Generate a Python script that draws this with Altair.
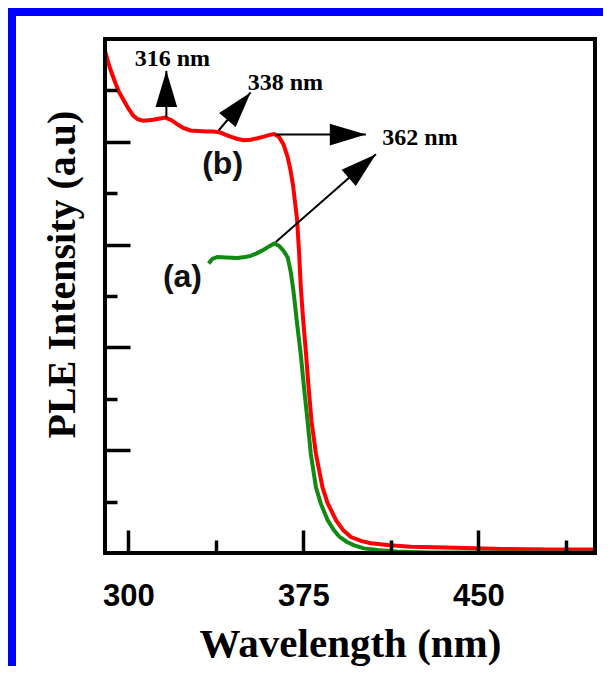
import altair as alt
import pandas as pd

# ---------------- data ----------------
red_nm = [290, 292, 294.4, 296, 297.9, 300, 302.1, 304, 306.4, 308.5, 310.7, 313, 315.9, 318.5,
          321, 323.5, 326.6, 330, 333.9, 336.5, 339.5, 341.5, 343.8, 346.5, 349.4, 352.5, 355.4,
          358, 361, 362.5, 364.5, 366.5, 368.3, 369.5, 370.6, 371.5, 372.3, 373.2, 373.9, 374.9,
          376.1, 377.2, 378.5, 380.4, 383.2, 385.4, 389, 392, 395.4, 400, 404, 412, 421, 440,
          460, 480, 500]
red_val = [9.77, 9.45, 9.15, 8.97, 8.82, 8.65, 8.51, 8.44, 8.41, 8.42, 8.43, 8.45, 8.47, 8.42,
           8.34, 8.27, 8.22, 8.21, 8.20, 8.20, 8.18, 8.14, 8.10, 8.06, 8.03, 8.04, 8.07,
           8.10, 8.14, 8.15, 8.10, 7.95, 7.70, 7.45, 7.15, 6.80, 6.50, 5.83, 5.18, 4.55,
           3.91, 3.25, 2.57, 1.93, 1.28, 0.97, 0.64, 0.45, 0.31, 0.23, 0.19, 0.15, 0.12, 0.10,
           0.08, 0.07, 0.07]

green_nm = [334.4, 336, 338.2, 342, 346.8, 350, 352.4, 355, 358, 360.5, 362.5, 364.5, 366.5,
            368.3, 369.6, 370.6, 371.4, 372.2, 373.9, 375.3, 376.8, 378.2, 380.4, 382.5, 385.4,
            388, 390.4, 393.5, 396.8, 401, 406.9, 415, 428.4, 450, 475, 500]
green_val = [5.63, 5.72, 5.76, 5.75, 5.74, 5.76, 5.78, 5.83, 5.90, 5.97, 6.02, 5.98, 5.88,
             5.75, 5.47, 5.15, 4.85, 4.51, 3.86, 3.22, 2.57, 1.93, 1.28, 0.96, 0.64,
             0.45, 0.32, 0.22, 0.15, 0.09, 0.06, 0.03, 0.01, 0.01, 0.01, 0.01]

ann_text = ["316 nm", "338 nm", "362 nm"]
ann_x = [318.9, 367.3, 425.0]
ann_y = [9.48, 9.01, 7.93]

curve_labels = ["(a)", "(b)"]
curve_label_x = [323.2, 340.4]
curve_label_y = [5.36, 7.56]

arrow_x0 = [316.3, 338.7, 363.2, 363.2]
arrow_y0 = [8.47, 8.22, 8.14, 6.05]
arrow_x1 = [316.3, 352.4, 401.8, 406.1]
arrow_y1 = [9.38, 8.96, 8.14, 7.76]
arrow_angle = [0, 40, 90, 49]

x_major = [300, 375, 450]
x_minor = [337.5, 412.5, 487.5]
y_major = [2, 4, 6, 8]
y_minor = [1, 3, 5, 7, 9]

x_domain = [290, 500]
y_domain = [0, 10]

# ---------------- tables ----------------
red_df = pd.DataFrame({"nm": red_nm, "v": red_val})
green_df = pd.DataFrame({"nm": green_nm, "v": green_val})
ann_df = pd.DataFrame({"nm": ann_x, "v": ann_y, "t": ann_text})
lab_df = pd.DataFrame({"nm": curve_label_x, "v": curve_label_y, "t": curve_labels})
arr_df = pd.DataFrame({"nm": arrow_x0, "v": arrow_y0, "nm2": arrow_x1, "v2": arrow_y1,
                       "ang": arrow_angle})
frame_df = pd.DataFrame({"nm": [x_domain[0]], "nm2": [x_domain[1]],
                         "v": [y_domain[0]], "v2": [y_domain[1]]})

W, H = 490, 514
PAD = {"left": 97, "top": 31, "right": 8, "bottom": 113}
BORDER = 8
BLUE = "#0000ff"

xs = alt.Scale(domain=x_domain, nice=False, zero=False)
ys = alt.Scale(domain=y_domain, nice=False, zero=False)

SERIF = "Liberation Serif"
SANS = "Liberation Sans"

main_x_axis = alt.Axis(values=x_major, format="d", ticks=False, tickSize=0, domain=False,
                       grid=False, labelFont=SANS, labelFontWeight="bold", labelFontSize=31,
                       labelColor="black", labelPadding=28, labelBaseline="top",
                       labelFlush=False, labelOverlap=False,
                       title="Wavelength (nm)", titleFont=SERIF, titleFontSize=41,
                       titleFontWeight="bold", titleColor="black", titleY=103,
                       titleBaseline="alphabetic", zindex=1)
main_y_axis = alt.Axis(labels=False, ticks=False, domain=False, grid=False,
                       title="PLE Intensity (a.u)", titleFont=SERIF, titleFontSize=40,
                       titleFontWeight="bold", titleColor="black", titleAngle=270,
                       titleX=-43, titleY=235, titleAlign="center", titleBaseline="middle",
                       zindex=1)


def tick_axis_x(vals, size):
    return alt.Axis(orient="top", offset=-H, values=vals, labels=False, domain=False,
                    grid=False, tickSize=size, tickWidth=3.5, tickColor="black",
                    title=None, zindex=1)


def tick_axis_y(vals, size):
    return alt.Axis(orient="right", offset=-W, values=vals, labels=False, domain=False,
                    grid=False, tickSize=size, tickWidth=3.5, tickColor="black",
                    title=None, zindex=1)


# blue picture border (top and left stripes)
top_stripe = alt.Chart(pd.DataFrame({"k": [0]})).mark_rect(color=BLUE).encode(
    x=alt.value(-PAD["left"]), x2=alt.value(W + PAD["right"] + 4),
    y=alt.value(-PAD["top"]), y2=alt.value(-PAD["top"] + BORDER))
left_stripe = alt.Chart(pd.DataFrame({"k": [0]})).mark_rect(color=BLUE).encode(
    x=alt.value(-PAD["left"]), x2=alt.value(-PAD["left"] + BORDER),
    y=alt.value(-PAD["top"]), y2=alt.value(H + PAD["bottom"] + 4))

red_line = alt.Chart(red_df).mark_line(color="#ff0000", strokeWidth=4).encode(
    x=alt.X("nm:Q", scale=xs, axis=tick_axis_x(x_major, 23)),
    y=alt.Y("v:Q", scale=ys, axis=tick_axis_y(y_major, 25)))

green_line = alt.Chart(green_df).mark_line(color="#118a11", strokeWidth=4).encode(
    x=alt.X("nm:Q", scale=xs, axis=tick_axis_x(x_minor, 13)),
    y=alt.Y("v:Q", scale=ys, axis=tick_axis_y(y_minor, 12)))

frame = alt.Chart(frame_df).mark_rect(fillOpacity=0, stroke="black", strokeWidth=4).encode(
    x=alt.X("nm:Q", scale=xs, axis=main_x_axis), x2="nm2:Q",
    y=alt.Y("v:Q", scale=ys, axis=main_y_axis), y2="v2:Q")

arrows = alt.Chart(arr_df).mark_rule(color="black", strokeWidth=2).encode(
    x=alt.X("nm:Q", scale=xs, axis=None), x2="nm2:Q",
    y=alt.Y("v:Q", scale=ys, axis=None), y2="v2:Q")

heads = alt.Chart(arr_df).mark_point(shape="M0,0L0.6,2L-0.6,2Z", filled=True, size=1300,
                                     color="black", opacity=1).encode(
    x=alt.X("nm2:Q", scale=xs, axis=None),
    y=alt.Y("v2:Q", scale=ys, axis=None),
    angle=alt.Angle("ang:Q", scale=None))

ann = alt.Chart(ann_df).mark_text(font=SERIF, fontWeight="bold", fontSize=24, color="black",
                                  align="center", baseline="alphabetic").encode(
    x=alt.X("nm:Q", scale=xs, axis=None), y=alt.Y("v:Q", scale=ys, axis=None), text="t:N")

labs = alt.Chart(lab_df).mark_text(font=SANS, fontWeight="bold", fontSize=32, color="#111111",
                                   align="center", baseline="middle").encode(
    x=alt.X("nm:Q", scale=xs, axis=None), y=alt.Y("v:Q", scale=ys, axis=None), text="t:N")

chart = alt.layer(top_stripe, left_stripe, red_line, green_line, frame, arrows, heads,
                  ann, labs).resolve_axis(
    x="independent", y="independent"
).properties(
    width=W, height=H,
    autosize=alt.AutoSizeParams(type="none"),
    padding=PAD,
    background="white",
).configure_view(stroke=None)

chart.save("out.html", embed_options={"renderer": "svg", "actions": False})
